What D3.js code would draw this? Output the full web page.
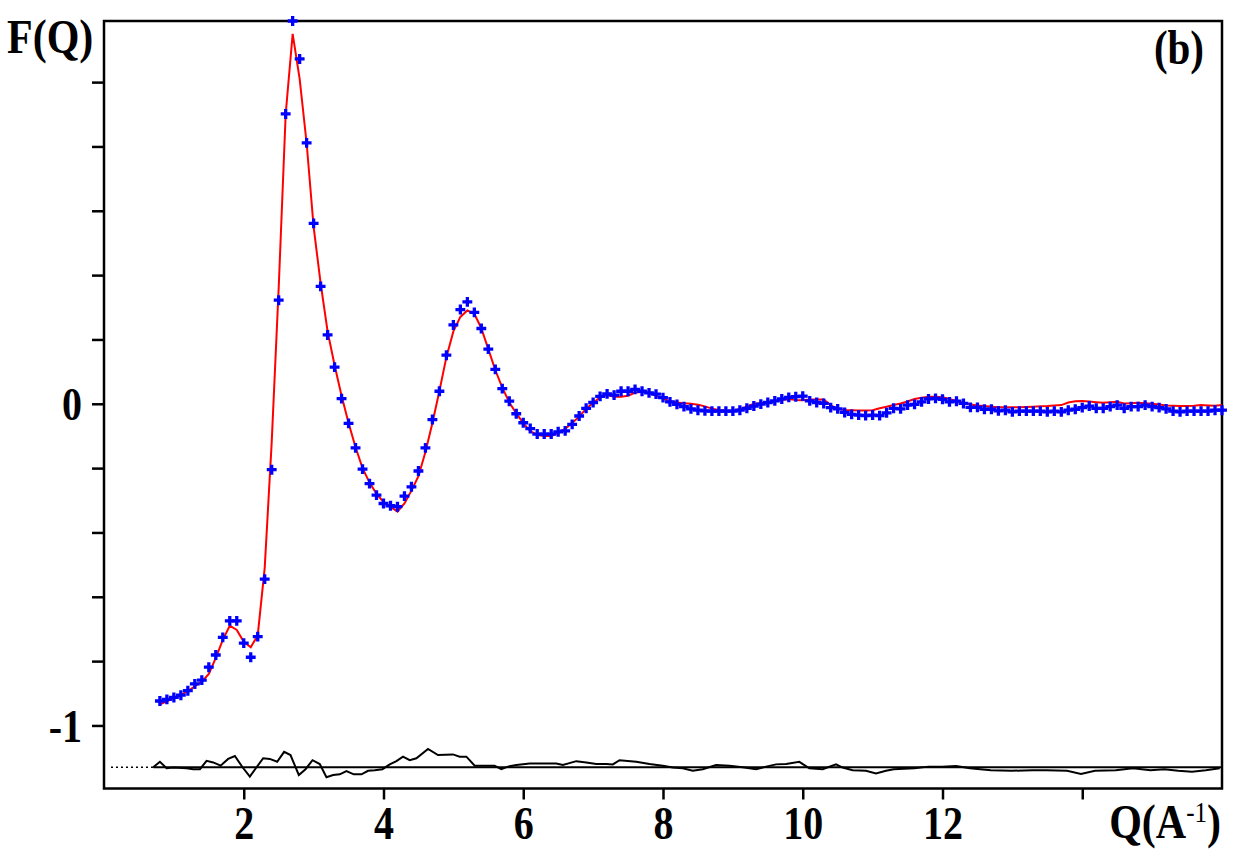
<!DOCTYPE html>
<html>
<head>
<meta charset="utf-8">
<script src="https://cdn.jsdelivr.net/npm/d3@7/dist/d3.min.js"></script>
<style>
  html, body { margin: 0; padding: 0; background: #ffffff; }
  svg { display: block; }
  text { font-family: "Liberation Serif", "Times New Roman", serif; font-weight: bold; fill: #000; }
</style>
</head>
<body>
<script>
// ---------------- data ----------------
const qValues = [
  0.8,0.9,1.0,1.1,1.2,1.3,1.4,1.5,1.6,1.7,1.8,1.9,2.0,2.1,2.2,2.3,
  2.4,2.5,2.6,2.7,2.8,2.9,3.0,3.1,3.2,3.3,3.4,3.5,3.6,3.7,3.8,3.9,
  4.0,4.1,4.2,4.3,4.4,4.5,4.6,4.7,4.8,4.9,5.0,5.1,5.2,5.3,5.4,5.5,
  5.6,5.7,5.8,5.9,6.0,6.1,6.2,6.3,6.4,6.5,6.6,6.7,6.8,6.9,7.0,7.1,
  7.2,7.3,7.4,7.5,7.6,7.7,7.8,7.9,8.0,8.1,8.2,8.3,8.4,8.5,8.6,8.7,
  8.8,8.9,9.0,9.1,9.2,9.3,9.4,9.5,9.6,9.7,9.8,9.9,10.0,10.1,10.2,10.3,
  10.4,10.5,10.6,10.7,10.8,10.9,11.0,11.1,11.2,11.3,11.4,11.5,11.6,11.7,11.8,11.9,
  12.0,12.1,12.2,12.3,12.4,12.5,12.6,12.7,12.8,12.9,13.0,13.1,13.2,13.3,13.4,13.5,
  13.6,13.7,13.8,13.9,14.0,14.1,14.2,14.3,14.4,14.5,14.6,14.7,14.8,14.9,15.0,15.1,
  15.2,15.3,15.4,15.5,15.6,15.7,15.8,15.9,16.0
];

// measured F(Q) (blue crosses)
const fExperiment = [
  -0.924,-0.919,-0.913,-0.906,-0.892,-0.871,-0.859,-0.819,-0.781,-0.726,-0.675,-0.675,-0.744,-0.788,-0.724,-0.545,
  -0.205,0.322,0.901,1.19,1.072,0.811,0.561,0.365,0.214,0.114,0.016,-0.061,-0.137,-0.203,-0.248,-0.284,
  -0.310,-0.317,-0.320,-0.287,-0.258,-0.209,-0.137,-0.049,0.039,0.151,0.245,0.293,0.317,0.284,0.234,0.170,
  0.107,0.047,0.008,-0.031,-0.059,-0.077,-0.094,-0.094,-0.094,-0.087,-0.084,-0.064,-0.038,-0.014,0.004,0.023,
  0.031,0.027,0.039,0.039,0.045,0.039,0.034,0.030,0.019,0.006,-0.002,-0.009,-0.016,-0.020,-0.022,-0.023,
  -0.023,-0.023,-0.023,-0.020,-0.014,-0.007,-0.001,0.004,0.009,0.015,0.020,0.022,0.024,0.009,0.004,0.001,
  -0.012,-0.016,-0.027,-0.033,-0.035,-0.037,-0.035,-0.037,-0.028,-0.014,-0.016,-0.004,-0.002,0.006,0.015,0.017,
  0.014,0.006,0.008,0.001,-0.011,-0.011,-0.017,-0.017,-0.022,-0.020,-0.025,-0.023,-0.023,-0.023,-0.023,-0.025,
  -0.023,-0.025,-0.020,-0.017,-0.012,-0.007,-0.014,-0.014,-0.009,-0.004,-0.014,-0.009,-0.009,-0.004,-0.009,-0.012,
  -0.016,-0.023,-0.025,-0.023,-0.023,-0.023,-0.023,-0.020,-0.020
];

// model fit F(Q) (red line)
const fModel = [
  -0.934,-0.925,-0.915,-0.905,-0.893,-0.878,-0.864,-0.840,-0.790,-0.734,-0.690,-0.703,-0.740,-0.757,-0.720,-0.510,
  -0.120,0.360,0.900,1.150,1.010,0.810,0.550,0.375,0.225,0.120,0.025,-0.060,-0.135,-0.200,-0.245,-0.280,
  -0.305,-0.320,-0.335,-0.310,-0.270,-0.225,-0.150,-0.060,0.040,0.145,0.225,0.270,0.290,0.280,0.235,0.170,
  0.105,0.050,0.005,-0.030,-0.060,-0.085,-0.097,-0.100,-0.100,-0.090,-0.078,-0.060,-0.040,-0.015,0.003,0.020,
  0.027,0.022,0.022,0.025,0.035,0.037,0.034,0.025,0.016,0.008,0.004,0.002,0.000,-0.003,-0.008,-0.015,
  -0.019,-0.021,-0.022,-0.016,-0.009,0.000,0.002,0.004,0.008,0.012,0.015,0.012,0.011,0.013,0.013,0.013,
  -0.005,-0.015,-0.020,-0.020,-0.021,-0.021,-0.020,-0.014,-0.009,-0.004,0.001,0.007,0.015,0.019,0.022,0.022,
  0.020,0.015,0.009,0.003,-0.002,-0.005,-0.007,-0.009,-0.011,-0.011,-0.011,-0.011,-0.010,-0.009,-0.008,-0.007,
  -0.005,-0.004,0.004,0.008,0.009,0.007,0.005,0.003,0.005,0.006,0.001,0.002,0.003,0.002,0.000,-0.002,
  -0.005,-0.006,-0.007,-0.007,-0.006,-0.004,-0.005,-0.006,-0.004
];

// difference curve (black, drawn around the offset baseline)
const diffQ = [
  0.705,0.80,0.896,0.991,1.18,1.277,1.373,1.468,1.563,1.669,1.777,1.873,1.983,2.087,2.183,2.278,
  2.373,2.478,2.578,2.669,2.788,2.884,2.984,3.088,3.184,3.279,3.374,3.470,3.574,3.685,3.779,3.875,
  3.985,4.089,4.185,4.279,4.375,4.471,4.637,4.780,4.994,5.090,5.186,5.305,5.590,5.686,5.781,5.901,
  6.091,6.281,6.473,6.567,6.759,6.902,7.045,7.188,7.282,7.378,7.617,7.807,7.997,8.140,8.283,8.426,
  8.569,8.760,8.951,9.141,9.332,9.475,9.618,9.763,9.951,10.094,10.285,10.476,10.571,10.714,10.905,11.048,
  11.191,11.301,11.600,11.799,11.996,12.195,12.393,12.692,12.990,13.287,13.486,13.783,13.982,14.181,14.480,14.727,
  14.976,15.174,15.373,15.570,15.769,15.968
];
const diffF = [
  -1.130,-1.113,-1.133,-1.131,-1.133,-1.136,-1.136,-1.110,-1.115,-1.125,-1.104,-1.095,-1.130,-1.159,-1.130,-1.102,
  -1.104,-1.113,-1.082,-1.092,-1.154,-1.136,-1.108,-1.120,-1.161,-1.154,-1.152,-1.142,-1.152,-1.152,-1.141,-1.139,
  -1.136,-1.121,-1.111,-1.097,-1.108,-1.102,-1.073,-1.092,-1.090,-1.097,-1.097,-1.125,-1.125,-1.136,-1.128,-1.123,
  -1.118,-1.118,-1.118,-1.123,-1.111,-1.115,-1.120,-1.120,-1.121,-1.108,-1.113,-1.120,-1.125,-1.131,-1.133,-1.141,
  -1.136,-1.123,-1.125,-1.130,-1.136,-1.128,-1.121,-1.120,-1.113,-1.133,-1.136,-1.121,-1.131,-1.139,-1.141,-1.149,
  -1.141,-1.136,-1.133,-1.128,-1.128,-1.126,-1.133,-1.139,-1.141,-1.139,-1.139,-1.141,-1.151,-1.141,-1.139,-1.133,
  -1.139,-1.136,-1.141,-1.144,-1.139,-1.133
];
const diffOffset = -1.130;           // level of the horizontal reference line
const diffBaseStart = [0.1, 0.705];  // dotted stretch of the reference line
const diffBaseEnd = [0.705, 16.0];   // solid stretch of the reference line

const xTicks = [2, 4, 6, 8, 10, 12, 14];
const xTickLabels = ["2", "4", "6", "8", "10", "12", ""];
const yTicks = [-1.0, -0.8, -0.6, -0.4, -0.2, 0.0, 0.2, 0.4, 0.6, 0.8, 1.0];
const yTickLabels = ["-1", "", "", "", "", "0", "", "", "", "", ""];
const xDomain = [0, 16];
const yDomain = [-1.196, 1.19];

// ---------------- drawing ----------------
const W = 1242, H = 850;
const plot = { left: 104, right: 1222, top: 21, bottom: 788.5 };
const SY = 1.16; // vertical stretch of the bold serif lettering
const FONT = '"Liberation Serif", "Times New Roman", serif';

const svg = d3.select("body").append("svg")
  .attr("width", W).attr("height", H)
  .style("background", "#fff");

const x = d3.scaleLinear().domain(xDomain).range([plot.left, plot.right]);
const y = d3.scaleLinear().domain(yDomain).range([plot.bottom, plot.top]);

// axes (ticks outside)
const xAxis = d3.axisBottom(x)
  .tickValues(xTicks)
  .tickSize(11)
  .tickFormat((d, i) => xTickLabels[i]);
const gx = svg.append("g")
  .attr("transform", `translate(0,${plot.bottom})`)
  .call(xAxis);
gx.select(".domain").remove();
gx.selectAll(".tick line").attr("stroke", "#000").attr("stroke-width", 2.5);
gx.selectAll(".tick text")
  .attr("y", 0).attr("dy", 0)
  .attr("transform", `translate(0,50) scale(1,${SY})`)
  .style("font-family", FONT)
  .style("font-weight", "bold")
  .style("font-size", "40px")
  .attr("fill", "#000");

const yAxis = d3.axisLeft(y)
  .tickValues(yTicks)
  .tickSize(12)
  .tickFormat((d, i) => yTickLabels[i]);
const gy = svg.append("g")
  .attr("transform", `translate(${plot.left},0)`)
  .call(yAxis);
gy.select(".domain").remove();
gy.selectAll(".tick line").attr("stroke", "#000").attr("stroke-width", 2.5);
gy.selectAll(".tick text")
  .attr("x", 0).attr("dy", "0.34em")
  .attr("transform", `translate(-22,0) scale(1,${SY})`)
  .style("font-family", FONT)
  .style("font-weight", "bold")
  .style("font-size", "40px")
  .attr("fill", "#000");

// frame
svg.append("rect")
  .attr("x", plot.left).attr("y", plot.top)
  .attr("width", plot.right - plot.left)
  .attr("height", plot.bottom - plot.top)
  .attr("fill", "none").attr("stroke", "#000").attr("stroke-width", 2.5);

// difference reference line
svg.append("line")
  .attr("x1", x(diffBaseStart[0])).attr("x2", x(diffBaseStart[1]))
  .attr("y1", y(diffOffset)).attr("y2", y(diffOffset))
  .attr("stroke", "#000").attr("stroke-width", 1.5)
  .attr("stroke-dasharray", "2,3");
svg.append("line")
  .attr("x1", x(diffBaseEnd[0])).attr("x2", x(diffBaseEnd[1]))
  .attr("y1", y(diffOffset)).attr("y2", y(diffOffset))
  .attr("stroke", "#000").attr("stroke-width", 2);

// difference curve
const diffData = diffQ.map((q, i) => [q, diffF[i]]);
svg.append("path")
  .datum(diffData)
  .attr("fill", "none").attr("stroke", "#000").attr("stroke-width", 2)
  .attr("stroke-linejoin", "miter")
  .attr("d", d3.line().x(d => x(d[0])).y(d => y(d[1])));

// model line (red)
const modelData = qValues.map((q, i) => [q, fModel[i]]);
svg.append("path")
  .datum(modelData)
  .attr("fill", "none").attr("stroke", "#ff0000").attr("stroke-width", 2)
  .attr("d", d3.line().x(d => x(d[0])).y(d => y(d[1])));

// experimental points (blue crosses)
const crossPath = d3.symbol(d3.symbolCross, 54)();
svg.append("g")
  .selectAll("path")
  .data(qValues.map((q, i) => [q, fExperiment[i]]))
  .join("path")
  .attr("d", crossPath)
  .attr("transform", d => `translate(${x(d[0])},${y(d[1])})`)
  .attr("fill", "#0000ff");

// labels
svg.append("text")
  .attr("transform", `translate(7,53) scale(1,${SY})`)
  .style("font-size", "42px")
  .text("F(Q)");

svg.append("text")
  .attr("transform", `translate(1204,64) scale(1,${SY})`)
  .attr("text-anchor", "end")
  .style("font-size", "41px")
  .text("(b)");

const qLabel = svg.append("text")
  .attr("transform", `translate(1221,838) scale(1,${SY})`)
  .attr("text-anchor", "end")
  .style("font-size", "42px");
qLabel.append("tspan").text("Q(A");
qLabel.append("tspan").attr("dy", -14).style("font-size", "25px").style("font-weight", "normal").text("-1");
qLabel.append("tspan").attr("dy", 14).text(")");
</script>
</body>
</html>
